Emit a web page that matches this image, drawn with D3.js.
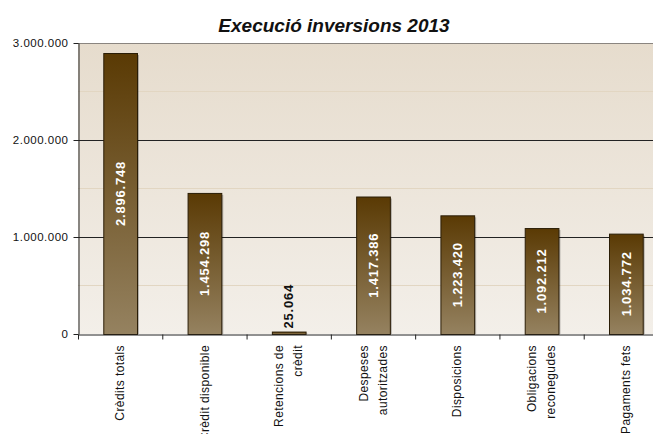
<!DOCTYPE html>
<html>
<head>
<meta charset="utf-8">
<script src="https://cdn.jsdelivr.net/npm/d3@7"></script>
<style>
  body { margin: 0; background: #fff; }
  text { font-family: "Liberation Sans", Arial, sans-serif; }
</style>
</head>
<body>
<div id="chart"></div>
<script>
// Chart data
const categories = ["Crèdits totals", "Crèdit disponible", "Retencions de crèdit", "Despeses autoritzades",
                    "Disposicions", "Obligacions reconegudes", "Pagaments fets"];
const labelLines = [["Crèdits totals"], ["Crèdit disponible"], ["Retencions de", "crèdit"], ["Despeses", "autoritzades"],
                    ["Disposicions"], ["Obligacions", "reconegudes"], ["Pagaments fets"]];
const values = [2896748, 1454298, 25064, 1417386, 1223420, 1092212, 1034772];
const yTicks = [0, 1000000, 2000000, 3000000];
const yMinor = [500000, 1500000, 2500000];

const W = 653, H = 434;
const plotL = 78, plotR = 668, plotT = 43, plotB = 334;

const svg = d3.select("#chart").append("svg")
  .attr("width", W).attr("height", H);

const defs = svg.append("defs");
const bg = defs.append("linearGradient").attr("id", "bg").attr("x1", 0).attr("y1", 0).attr("x2", 0).attr("y2", 1);
bg.append("stop").attr("offset", "0%").attr("stop-color", "#e6dccd");
bg.append("stop").attr("offset", "100%").attr("stop-color", "#f3efe9");
const bar = defs.append("linearGradient").attr("id", "bar").attr("x1", 0).attr("y1", 0).attr("x2", 0).attr("y2", 1);
bar.append("stop").attr("offset", "0%").attr("stop-color", "#5a3a04");
bar.append("stop").attr("offset", "100%").attr("stop-color", "#958260");

// Scales
const x = d3.scaleBand().domain(categories).range([plotL, plotR]).paddingInner(0.6).paddingOuter(0.3);
const xIdx = d3.scaleLinear().domain([0, categories.length]).range([plotL, plotR]);
const y = d3.scaleLinear().domain([0, 3000000]).range([plotB, plotT]);

const fmt = d3.formatLocale({decimal: ",", thousands: ".", grouping: [3], currency: ["", ""]}).format(",d");

// Plot background
svg.append("rect")
  .attr("x", plotL).attr("y", plotT)
  .attr("width", plotR - plotL).attr("height", plotB - plotT)
  .attr("fill", "url(#bg)");

// Minor gridlines
svg.selectAll(".minor").data(yMinor).join("line")
  .attr("x1", plotL).attr("x2", plotR)
  .attr("y1", d => y(d)).attr("y2", d => y(d))
  .attr("stroke", "#e2d6c2").attr("stroke-width", 1);

// Major gridlines
svg.selectAll(".major").data(yTicks.slice(1)).join("line")
  .attr("x1", plotL).attr("x2", plotR)
  .attr("y1", d => y(d) + 0.5).attr("y2", d => y(d) + 0.5)
  .attr("stroke", d => d === 3000000 ? "#8a8580" : "#222").attr("stroke-width", 1);

// Bar shadows
svg.selectAll(".shadow").data(values).join("rect")
  .attr("x", (d, i) => x(categories[i]) + 2)
  .attr("y", d => y(d) + 2)
  .attr("width", x.bandwidth())
  .attr("height", d => plotB - y(d) - 2)
  .attr("fill", "#000").attr("opacity", 0.25);

// Bars
svg.selectAll(".bar").data(values).join("rect")
  .attr("x", (d, i) => x(categories[i]) + 0.5)
  .attr("y", d => y(d) + 0.5)
  .attr("width", x.bandwidth())
  .attr("height", d => plotB - y(d))
  .attr("fill", "url(#bar)")
  .attr("stroke", "#2a1d06").attr("stroke-width", 1);

// Value labels
values.forEach((v, i) => {
  const cx = x(categories[i]) + x.bandwidth() / 2;
  const h = plotB - y(v);
  const inside = h > 80;
  svg.append("text")
    .attr("transform", inside
      ? `translate(${cx},${(y(v) + plotB) / 2}) rotate(-90)`
      : `translate(${cx},${y(v) - 3}) rotate(-90)`)
    .attr("text-anchor", inside ? "middle" : "start")
    .attr("dy", "0.36em")
    .attr("font-size", "13px").attr("font-weight", "bold")
    .attr("letter-spacing", "0.8px")
    .attr("fill", inside ? "#fff" : "#111")
    .text(fmt(v));
});

// Y axis
const yAxis = svg.append("g")
  .attr("transform", `translate(${plotL + 0.5},0)`)
  .call(d3.axisLeft(y).tickValues(yTicks).tickFormat(fmt).tickSize(5).tickSizeOuter(0));
yAxis.select(".domain").attr("stroke", "#222");
yAxis.selectAll(".tick line").attr("stroke", "#222");
yAxis.selectAll(".tick text")
  .attr("font-size", "11.5px").attr("letter-spacing", "0.5px")
  .attr("fill", "#111").attr("x", -10).attr("dy", "0.32em");

// X axis (ticks at category boundaries)
const xAxis = svg.append("g")
  .attr("transform", `translate(0,${plotB + 0.5})`)
  .call(d3.axisBottom(xIdx).tickValues(d3.range(categories.length + 1)).tickFormat("").tickSize(5).tickSizeOuter(0));
xAxis.select(".domain").attr("stroke", "#222");
xAxis.selectAll(".tick line").attr("stroke", "#222");

// Category labels
labelLines.forEach((lines, i) => {
  const cx = x(categories[i]) + x.bandwidth() / 2;
  const t = svg.append("text")
    .attr("transform", `translate(${cx},345) rotate(-90)`)
    .attr("font-size", "12px").attr("letter-spacing", "0.4px")
    .attr("fill", "#111");
  lines.forEach((ln, k) => {
    const off = (k - (lines.length - 1) / 2) * 19;
    t.append("tspan")
      .attr("x", 0).attr("y", off).attr("dy", "0.35em")
      .attr("text-anchor", "end")
      .text(ln);
  });
});

// Title
svg.append("text")
  .attr("x", 334).attr("y", 32)
  .attr("text-anchor", "middle")
  .attr("font-size", "19px").attr("font-weight", "bold").attr("font-style", "italic")
  .attr("fill", "#111")
  .text("Execució inversions 2013");
</script>
</body>
</html>
